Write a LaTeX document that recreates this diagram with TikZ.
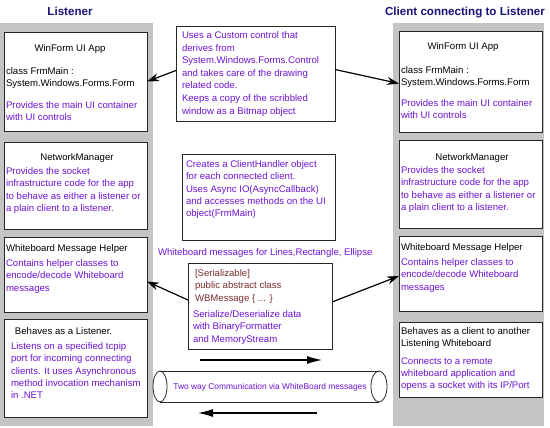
\documentclass[tikz,border=0pt]{standalone}
\usepackage{fontspec}
\setmainfont{Liberation Sans}
\usetikzlibrary{arrows.meta}
\definecolor{navyt}{RGB}{20,20,120}
\definecolor{purp}{RGB}{110,20,210}
\definecolor{maroonc}{RGB}{120,45,45}
\definecolor{panelg}{RGB}{196,196,196}
\tikzset{
  panel/.style={fill=panelg, draw=none, inner sep=0, outer sep=0, anchor=north west},
  box/.style={draw=black!85, line width=0.9pt, fill=white, inner sep=0, outer sep=0, anchor=north west},
  txt/.style={inner sep=0, outer sep=0, align=left, anchor=north west, font=\fontsize{9.6}{12.3}\selectfont, execute at begin node={\rule{0pt}{8pt}}},
  hd/.style={inner sep=0, outer sep=0, anchor=base, font=\fontsize{9.6}{12.3}\selectfont},
  ptxt/.style={txt, text=purp},
  mtxt/.style={txt, text=maroonc},
  ttl/.style={inner sep=0, anchor=base, text=navyt, font=\fontsize{11.6}{14}\selectfont\bfseries},
  arr/.style={-{Stealth[length=12pt,width=8pt]}, line width=1.2pt},
  arrb/.style={-{Latex[length=15pt,width=8pt]}, line width=1.2pt},
}
\begin{document}
\begin{tikzpicture}[x=1pt,y=-1pt]
\useasboundingbox[fill=white] (0,0) rectangle (550,428);
% panels
\node[panel, minimum width=153, minimum height=403] (lpanel) at (0,23) {};
\node[panel, minimum width=151, minimum height=403] (rpanel) at (393,23) {};
% titles
\node[ttl] (tl) at (70,16) {Listener};
\node[ttl] (tr) at (465,16) {Client connecting to Listener};
% left boxes
\node[box, minimum width=143, minimum height=99] (lb1) at (4,32) {};
\node[box, minimum width=143, minimum height=87] (lb2) at (4,142) {};
\node[box, minimum width=143, minimum height=75] (lb3) at (4,237) {};
\node[box, minimum width=143, minimum height=98] (lb4) at (4,319) {};
% right boxes
\node[box, minimum width=143, minimum height=101] (rb1) at (399,31) {};
\node[box, minimum width=143, minimum height=88] (rb2) at (399,140) {};
\node[box, minimum width=143, minimum height=75] (rb3) at (399,236) {};
\node[box, minimum width=143, minimum height=75] (rb4) at (399,322) {};
% center boxes
\node[box, minimum width=159, minimum height=95] (cb1) at (176,26) {};
\node[box, minimum width=153, minimum height=86] (cb2) at (182,154) {};
\node[box, minimum width=144, minimum height=86] (cb3) at (188,263) {};
% left texts
\node[hd] (l1h) at (70,51.5) {WinForm UI App};
\node[txt] (l1a) at (6,67.5) {class FrmMain :\\System.Windows.Forms.Form};
\node[ptxt] (l1b) at (6,101.5) {Provides the main UI container\\with UI controls};
\node[hd] (l2h) at (77,160.5) {NetworkManager};
\node[ptxt] (l2b) at (6,167.5) {Provides the socket\\infrastructure code for the app\\to behave as either a listener or\\a plain client to a listener.};
\node[txt] (l3h) at (6,243.5) {Whiteboard Message Helper};
\node[ptxt] (l3b) at (6,259.5) {Contains helper classes to\\encode/decode Whiteboard\\messages};
\node[txt] (l4h) at (15,326.5) {Behaves as a Listener.};
\node[ptxt] (l4b) at (11,342.5) {Listens on a specified tcpip\\port for incoming connecting\\clients. It uses Asynchronous\\method invocation mechanism\\in .NET};
% right texts
\node[hd] (r1h) at (463,49.5) {WinForm UI App};
\node[txt] (r1a) at (401,66.5) {class FrmMain :\\System.Windows.Forms.Form};
\node[ptxt] (r1b) at (401,99.5) {Provides the main UI container\\with UI controls};
\node[hd] (r2h) at (472,160.5) {NetworkManager};
\node[ptxt] (r2b) at (401,166.5) {Provides the socket\\infrastructure code for the app\\to behave as either a listener or\\a plain client to a listener.};
\node[txt] (r3h) at (401,242.5) {Whiteboard Message Helper};
\node[ptxt] (r3b) at (401,258.5) {Contains helper classes to\\encode/decode Whiteboard\\messages};
\node[txt] (r4h) at (401,327.5) {Behaves as a client to another\\Listening Whiteboard};
\node[ptxt] (r4b) at (401,357.5) {Connects to a remote\\whiteboard application and\\opens a socket with its IP/Port};
% center texts
\node[ptxt, font=\fontsize{9.6}{12.6}\selectfont] (c1t) at (182,31.5) {Uses a Custom control that\\derives from\\System.Windows.Forms.Control\\and takes care of the drawing\\related code.\\Keeps a copy of the scribbled\\window as a Bitmap object};
\node[ptxt] (c2t) at (186,160.5) {Creates a ClientHandler object\\for each connected client.\\Uses Async IO(AsyncCallback)\\and accesses methods on the UI\\object(FrmMain)};
\node[ptxt] (lbl) at (158,247.5) {Whiteboard messages for Lines,Rectangle, Ellipse};
\node[mtxt] (c3a) at (195,269.5) {[Serializable]\\public abstract class\\WBMessage \{ ... \}};
\node[ptxt] (c3b) at (193,310.5) {Serialize/Deserialize data\\with BinaryFormatter\\and MemoryStream};
% cylinder
\draw[line width=0.8pt, black!85] (160,371) -- (379,371) (160,402) -- (379,402);
\draw[line width=0.8pt, black!85] (160,386.5) ellipse [x radius=7pt, y radius=15.5pt];
\draw[line width=0.8pt, black!85] (379,386.5) ellipse [x radius=8pt, y radius=15.5pt];
\node[inner sep=0, text=purp, font=\fontsize{8.4}{10}\selectfont] (cyl) at (270,387) {Two way Communication via WhiteBoard messages};
% arrows
\draw[arr] ([yshift=3pt]cb1.west) -- ([yshift=0pt]lb1.east);
\draw[arr] ([yshift=4pt]cb1.east) -- ([yshift=-2pt]rb1.west);
\draw[arr] ([yshift=6pt]cb3.west) -- ([yshift=-7pt]lb3.east);
\draw[arr] ([yshift=4pt]cb3.east) -- ([yshift=-2.5pt]rb3.west);
\coordinate (a1) at (200,360);
\coordinate (a2) at (322,360);
\coordinate (a3) at (317,413);
\coordinate (a4) at (198,413);
\draw[arrb] (a1) -- (a2);
\draw[arrb] (a3) -- (a4);
\end{tikzpicture}
\end{document}
